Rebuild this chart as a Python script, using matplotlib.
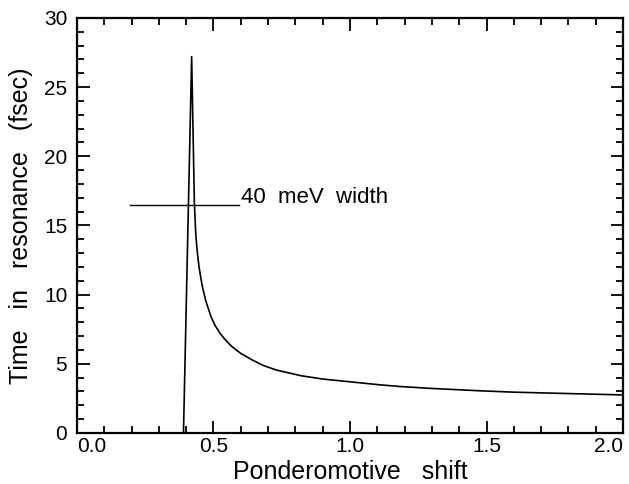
import matplotlib
matplotlib.use("Agg")
import matplotlib.pyplot as plt
from matplotlib.ticker import MultipleLocator

# Data
shift = [0.390, 0.420, 0.430, 0.435, 0.440, 0.447, 0.458, 0.471, 0.491,
         0.505, 0.524, 0.545, 0.567, 0.600, 0.640, 0.680, 0.730, 0.823,
         0.900, 1.000, 1.110, 1.183, 1.300, 1.476, 1.600, 1.800, 2.000]
time_fs = [0.0, 27.2, 16.6, 14.4, 13.2, 12.0, 10.7, 9.6, 8.4,
           7.8, 7.2, 6.7, 6.25, 5.75, 5.3, 4.9, 4.55, 4.13,
           3.9, 3.7, 3.48, 3.36, 3.22, 3.05, 2.95, 2.85, 2.75]

width_x = [0.195, 0.595]
width_y = [16.5, 16.5]
width_label = "40  meV  width"

xticks = [0.0, 0.5, 1.0, 1.5, 2.0]
xticklabels = ["0.0", "0.5", "1.0", "1.5", "2.0"]
yticks = [0, 5, 10, 15, 20, 25, 30]
yticklabels = ["0", "5", "10", "15", "20", "25", "30"]

plt.rcParams['font.family'] = ['Liberation Sans', 'DejaVu Sans']

fig = plt.figure(figsize=(6.29, 4.84), dpi=100)
ax = fig.add_axes([0.1224, 0.1054, 0.8681, 0.8575])

ax.plot(shift, time_fs, color='black', lw=1.2)
ax.plot(width_x, width_y, color='black', lw=1.0)
ax.text(width_x[1] + 0.005, width_y[0] + 0.15, width_label, fontsize=16,
        ha='left', va='baseline')

ax.set_xlim(0, 2.0)
ax.set_ylim(0, 30)
ax.set_xticks(xticks)
ax.set_xticklabels(xticklabels)
ax.set_yticks(yticks)
ax.set_yticklabels(yticklabels)
ax.xaxis.set_minor_locator(MultipleLocator(0.1))
ax.yaxis.set_minor_locator(MultipleLocator(1))
ax.tick_params(which='both', direction='in', top=True, right=True,
               width=1.3, labelsize=15)
ax.tick_params(axis='x', which='major', pad=3)
ax.tick_params(axis='y', which='major', pad=7)
ax.tick_params(which='major', length=9)
ax.tick_params(which='minor', length=5)
labs = ax.get_xticklabels()
labs[0].set_ha('left')
labs[-1].set_ha('right')
for s in ax.spines.values():
    s.set_linewidth(1.6)

ax.set_xlabel("Ponderomotive   shift", fontsize=18, labelpad=3)
ax.set_ylabel("Time   in   resonance   (fsec)", fontsize=18, labelpad=8)

fig.savefig("out.png", dpi=100)
